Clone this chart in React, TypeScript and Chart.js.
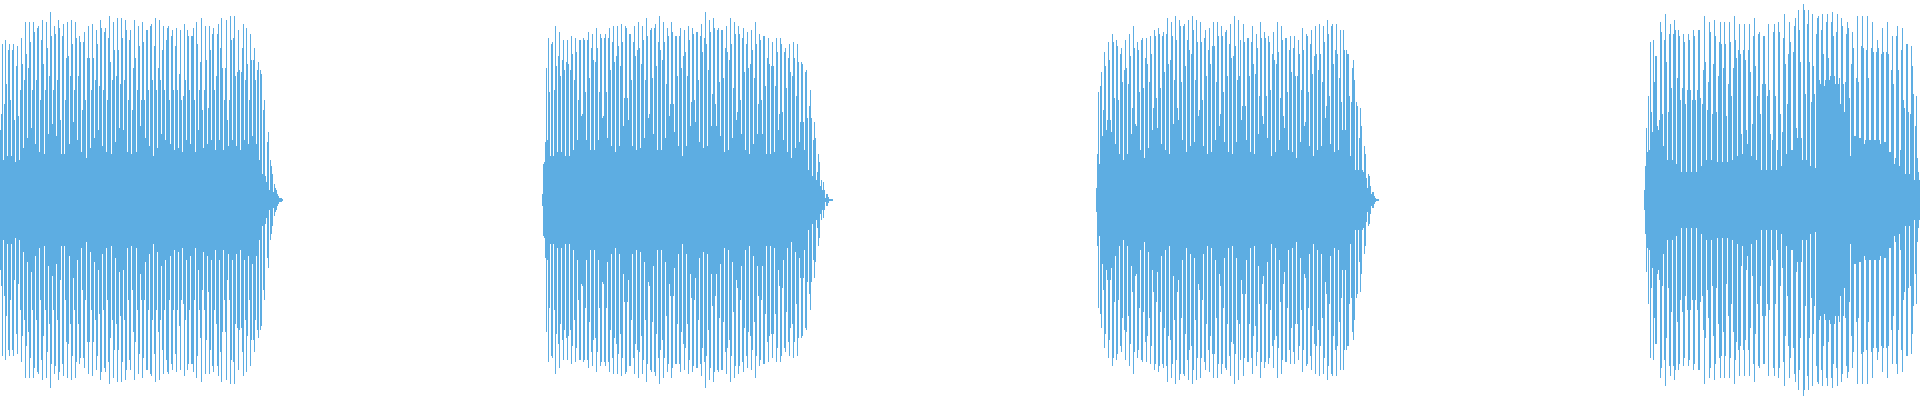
import React, { useEffect, useRef } from "react";
import { Chart, registerables } from "chart.js";

Chart.register(...registerables);

// Waveform: each entry is the peak amplitude (% of full scale) of one time column.
const seg1Start = 0;
const seg1Amp = [
  35, 43, 78, 20, 48, 80, 58, 22, 75, 78, 50, 22, 75, 78, 40, 19, 67, 77, 42, 20,
  55, 81, 68, 26, 60, 89, 73, 31, 66, 89, 79, 36, 55, 89, 84, 28, 60, 86, 87, 24,
  50, 80, 90, 68, 23, 55, 89, 76, 33, 62, 94, 82, 38, 55, 87, 83, 32, 60, 90, 86,
  40, 23, 82, 88, 23, 50, 71, 89, 72, 28, 62, 90, 78, 39, 55, 89, 81, 30, 62, 82,
  79, 24, 45, 79, 84, 50, 21, 71, 87, 71, 26, 55, 88, 71, 31, 60, 85, 78, 35, 57,
  90, 86, 27, 55, 84, 86, 24, 50, 81, 92, 69, 23, 60, 89, 75, 29, 62, 91, 75, 36,
  58, 91, 81, 35, 60, 90, 85, 24, 50, 80, 85, 23, 45, 66, 90, 71, 24, 55, 87, 77,
  37, 50, 89, 79, 50, 31, 85, 85, 55, 27, 87, 88, 60, 22, 77, 91, 55, 26, 66, 90,
  60, 33, 75, 87, 55, 30, 80, 86, 87, 50, 28, 82, 85, 55, 25, 77, 86, 55, 26, 63,
  85, 50, 24, 52, 88, 60, 30, 85, 82, 55, 28, 82, 82, 86, 50, 24, 89, 78, 35, 55,
  69, 91, 45, 26, 55, 87, 70, 28, 46, 87, 75, 30, 83, 86, 55, 25, 62, 83, 88, 30,
  76, 91, 66, 25, 50, 66, 90, 40, 27, 50, 92, 80, 30, 81, 92, 62, 27, 64, 85, 65,
  25, 64, 76, 88, 30, 60, 86, 68, 28, 50, 83, 70, 32, 70, 76, 60, 28, 65, 69, 20,
  65, 63, 13, 45, 50, 12, 9, 29, 34, 5, 20, 17, 13, 4, 8, 6, 5, 3, 2, 1,
  1, 1, 0.5,
];

const seg2Start = 542;
const seg2Amp = [
  3, 18, 19, 29, 66, 30, 81, 54, 22, 78, 79, 22, 55, 87, 67, 24, 72, 84, 62, 24,
  70, 80, 65, 22, 69, 80, 68, 22, 65, 82, 73, 25, 60, 81, 74, 30, 50, 80, 80, 42,
  43, 81, 80, 54, 30, 80, 84, 61, 25, 76, 83, 70, 25, 69, 86, 76, 30, 54, 83, 81,
  41, 42, 81, 83, 54, 31, 81, 86, 65, 27, 79, 87, 69, 24, 72, 87, 77, 27, 67, 88,
  79, 37, 51, 87, 86, 51, 40, 83, 83, 60, 27, 79, 87, 72, 25, 75, 89, 76, 26, 68,
  87, 80, 31, 60, 91, 82, 41, 43, 85, 86, 61, 33, 86, 88, 67, 25, 79, 92, 75, 25,
  70, 89, 79, 31, 58, 86, 82, 42, 48, 89, 84, 48, 34, 82, 82, 62, 27, 82, 86, 66,
  22, 72, 85, 74, 27, 62, 87, 80, 37, 49, 86, 83, 50, 39, 84, 84, 60, 29, 82, 88,
  74, 26, 81, 94, 78, 27, 65, 90, 84, 37, 53, 91, 86, 48, 37, 85, 86, 59, 32, 85,
  85, 61, 24, 76, 87, 74, 25, 70, 91, 78, 31, 56, 89, 83, 40, 44, 87, 83, 50, 33,
  81, 86, 64, 25, 78, 84, 66, 23, 68, 85, 75, 28, 61, 89, 78, 33, 48, 83, 80, 50,
  33, 82, 82, 57, 23, 71, 81, 68, 23, 67, 79, 67, 24, 57, 81, 74, 35, 43, 81, 78,
  44, 30, 74, 76, 56, 24, 71, 78, 64, 21, 62, 79, 71, 26, 52, 78, 69, 29, 39, 69,
  68, 39, 25, 64, 65, 41, 15, 47, 55, 41, 12, 30, 39, 31, 10, 14, 23, 19, 7, 10,
  5, 9, 5, 1, 3, 3, 1.5, 0.5, 0.5, 0.5, 0.5,
];

const seg3Start = 1096;
const seg3Amp = [
  6, 23, 54, 18, 57, 64, 32, 45, 74, 67, 35, 40, 79, 70, 40, 34, 83, 79, 51, 28,
  80, 77, 50, 23, 73, 76, 59, 20, 65, 80, 66, 23, 58, 83, 72, 33, 46, 87, 76, 38,
  37, 79, 75, 54, 25, 80, 81, 56, 21, 71, 81, 68, 26, 59, 82, 73, 35, 46, 85, 82,
  51, 36, 86, 83, 56, 28, 82, 84, 64, 25, 83, 91, 68, 23, 70, 89, 82, 38, 60, 92,
  80, 46, 40, 90, 87, 59, 30, 87, 88, 67, 24, 80, 90, 75, 27, 73, 92, 85, 29, 60,
  90, 79, 42, 45, 89, 79, 50, 27, 81, 85, 62, 23, 75, 86, 68, 24, 77, 89, 77, 30,
  59, 89, 82, 37, 43, 87, 82, 54, 29, 84, 85, 62, 24, 78, 88, 71, 23, 72, 92, 77,
  29, 60, 90, 62, 80, 40, 47, 88, 79, 47, 30, 81, 81, 62, 24, 79, 87, 68, 23, 63,
  83, 76, 33, 52, 89, 81, 42, 38, 84, 81, 52, 31, 82, 79, 55, 22, 73, 84, 70, 24,
  68, 89, 74, 30, 51, 87, 80, 42, 36, 81, 81, 54, 25, 75, 82, 64, 24, 76, 82, 62,
  21, 62, 80, 73, 29, 55, 86, 75, 37, 39, 83, 82, 54, 27, 78, 85, 63, 22, 72, 87,
  73, 25, 65, 88, 73, 27, 59, 87, 79, 41, 47, 90, 83, 52, 28, 87, 88, 68, 24, 75,
  88, 73, 25, 61, 85, 49, 35, 85, 75, 35, 75, 73, 73, 52, 22, 49, 66, 70, 60, 15,
  49, 47, 15, 31, 46, 37, 15, 14, 27, 23, 11, 6, 13, 12, 7, 3, 4, 4, 2, 1,
  0.5, 0.5, 0.5,
];

const seg4Start = 1644;
const seg4Amp = [
  5, 17, 36, 24, 52, 25, 79, 44, 34, 80, 59, 72, 72, 37, 35, 40, 89, 84, 43, 27,
  80, 93, 69, 20, 44, 83, 88, 56, 20, 83, 90, 85, 18, 61, 85, 82, 50, 14, 56, 83,
  79, 48, 14, 55, 83, 80, 55, 14, 50, 85, 82, 50, 14, 55, 85, 85, 51, 17, 48, 65,
  92, 69, 20, 45, 59, 89, 84, 20, 43, 68, 90, 82, 44, 19, 62, 79, 89, 78, 19, 66,
  89, 78, 42, 19, 58, 89, 79, 52, 20, 66, 92, 80, 71, 22, 75, 88, 73, 33, 23, 75,
  88, 70, 35, 28, 75, 88, 64, 22, 38, 82, 91, 67, 20, 52, 83, 84, 43, 15, 58, 82,
  82, 58, 15, 52, 88, 55, 33, 15, 30, 84, 88, 52, 15, 25, 89, 84, 43, 17, 34, 81,
  93, 68, 23, 48, 73, 89, 79, 25, 25, 74, 87, 91, 36, 31, 95, 85, 69, 31, 20, 98,
  95, 53, 20, 88, 95, 69, 17, 49, 93, 67, 53, 16, 83, 91, 92, 60, 58, 85, 93, 73,
  57, 60, 89, 93, 71, 60, 62, 89, 94, 82, 62, 58, 84, 93, 58, 61, 48, 91, 87, 58,
  44, 59, 83, 89, 86, 51, 22, 68, 84, 76, 32, 32, 61, 92, 59, 31, 31, 77, 92, 76,
  28, 30, 75, 92, 61, 30, 30, 76, 89, 74, 30, 30, 74, 80, 76, 30, 28, 73, 86, 74,
  29, 29, 74, 89, 73, 24, 24, 65, 82, 58, 18, 21, 82, 87, 65, 17, 25, 75, 86, 50,
  46, 13, 78, 78, 44, 13, 43, 77, 67, 53, 10, 37, 52, 21, 14, 10,
];

const segments = [
  { start: seg1Start, amp: seg1Amp },
  { start: seg2Start, amp: seg2Amp },
  { start: seg3Start, amp: seg3Amp },
  { start: seg4Start, amp: seg4Amp },
];

const waveColor = "#5DADE2";
const totalColumns = 1920;

export default function App() {
  const canvasRef = useRef<HTMLCanvasElement | null>(null);

  useEffect(() => {
    const canvas = canvasRef.current;
    if (!canvas) return;
    const points: { x: number; y: [number, number] }[] = [];
    segments.forEach((s) => {
      s.amp.forEach((a, i) => {
        points.push({ x: s.start + i, y: [-a / 100, a / 100] });
      });
    });

    const chart = new Chart(canvas, {
      type: "bar",
      data: {
        datasets: [
          {
            data: points as any,
            backgroundColor: waveColor,
            borderWidth: 0,
            barThickness: 1,
            inflateAmount: 0,
          } as any,
        ],
      },
      options: {
        animation: false,
        responsive: false,
        devicePixelRatio: 1,
        events: [],
        layout: { padding: 0 },
        plugins: {
          legend: { display: false },
          tooltip: { enabled: false },
        },
        scales: {
          x: {
            type: "linear",
            offset: false,
            min: -0.5,
            max: totalColumns - 0.5,
            display: false,
            grid: { offset: false },
          },
          y: {
            min: -1,
            max: 1,
            display: false,
          },
        },
      },
    });
    return () => chart.destroy();
  }, []);

  return (
    <div style={{ position: "absolute", left: 0, top: 0, width: 1920, height: 400, background: "#fff" }}>
      <canvas ref={canvasRef} width={1920} height={400} style={{ display: "block" }} />
    </div>
  );
}
